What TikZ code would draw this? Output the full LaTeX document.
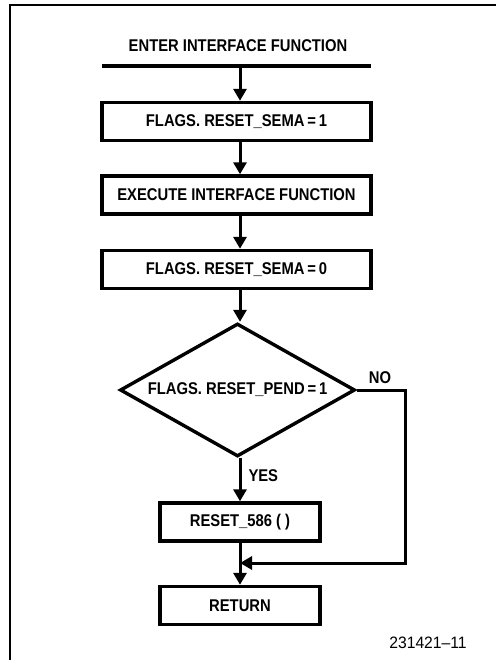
\documentclass[tikz,border=0pt]{standalone}
\usepackage{fontspec}
\setmainfont[FakeStretch=0.87]{Liberation Sans}
\newfontfamily\fignofont[FakeStretch=0.95,Ligatures=TeX]{Liberation Sans}
\usetikzlibrary{shapes.geometric,arrows.meta}
\tikzset{>={Stealth[length=12pt,width=13pt,inset=0pt]}}
\tikzset{
  txt/.style={inner sep=0pt,font=\fontsize{17}{19}\selectfont\bfseries},
  procbox/.style={txt,draw,line width=3.4pt,minimum height=38pt},
  bigbox/.style={procbox,minimum width=269pt},
  smallbox/.style={procbox,minimum width=160pt},
  check/.style={txt,draw,shape=diamond,line width=3.4pt,aspect=1.77,
    minimum width=235pt,minimum height=133pt},
  flow/.style={->,line width=3pt},
  frame/.style={line width=2pt}
}

\begin{document}
\begin{tikzpicture}[x=1pt,y=-1pt]
  \useasboundingbox (0,0) rectangle (496,660);
  \draw[frame] (10,660) -- (10,5) -- (496,5);

  \node[txt] (enter) at (238,46) {ENTER INTERFACE FUNCTION};
  \coordinate (barl) at (102,66);
  \coordinate (barr) at (371,66);
  \coordinate (bar) at (240,66);
  \draw[line width=3.6pt] (barl) -- (barr);

  \node[bigbox] (semaset) at (236.5,121.5) {FLAGS. RESET\_SEMA\,=\,1};
  \node[bigbox] (exec) at (236.5,195) {EXECUTE INTERFACE FUNCTION};
  \node[bigbox] (semaclr) at (236.5,269.5) {FLAGS. RESET\_SEMA\,=\,0};
  \node[check] (pend) at (237.5,390) {FLAGS. RESET\_PEND\,=\,1};
  \node[smallbox] (reset) at (240,522) {RESET\_586 ( )};
  \node[smallbox] (ret) at (240,605.5) {RETURN};

  \coordinate (nocorner) at (405,563);
  \coordinate (join) at (240,563);

  \draw[flow] (bar) -- (semaset.north -| bar);
  \draw[flow] (semaset.south -| bar) -- (exec.north -| bar);
  \draw[flow] (exec.south -| bar) -- (semaclr.north -| bar);
  \draw[flow] (semaclr.south -| bar) -- (pend.north -| bar);
  \draw[flow] (pend.south -| bar) -- node[txt,right=7pt,pos=0.4] (yes) {YES} (reset.north);
  \draw[flow] (reset.south) -- (ret.north);
  \draw[flow] (pend.east) -| (nocorner) -- (join);
  \node[txt] (no) at (380,378) {NO};

  \node[txt,font=\fontsize{16.5}{18}\fignofont] (figno) at (428,643) {231421--11};
\end{tikzpicture}
\end{document}
